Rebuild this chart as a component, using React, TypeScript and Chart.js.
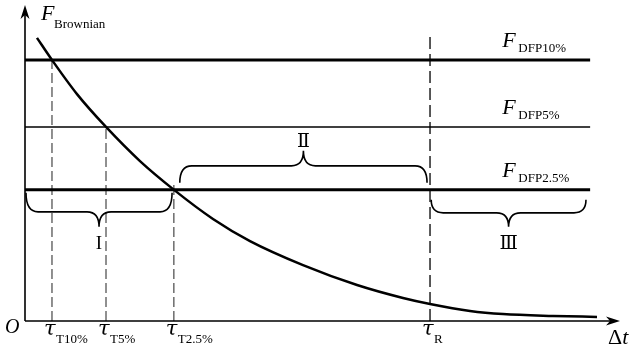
import React, { useEffect, useRef } from 'react';
import { Chart, registerables } from 'chart.js';

Chart.register(...registerables);

// Schematic data (arbitrary units: x 0..100 time, y 0..100 force)
const curveX = [2.02, 4.55, 8.77, 13.66, 19.39, 25.13, 31.7, 37.94, 46.88, 55.99, 63.74, 68.3, 75.04, 80.61, 89.04, 96.46];
const curveY = [89.6, 82.6, 71.8, 61.4, 50.6, 41.5, 32.3, 25.3, 17.7, 11.4, 7.3, 5.4, 3.2, 2.2, 1.6, 1.3];

const thresholdNames = ['DFP10%', 'DFP5%', 'DFP2.5%'];
const thresholdValues = [82.6, 61.4, 41.5];
const thresholdWidths = [3, 1.4, 3];
const thresholdEnd = 95.3;

const tickNames = ['T10%', 'T5%', 'T2.5%', 'R'];
const tickValues = [4.55, 13.66, 25.1, 68.3];
const tickTops = [82.6, 61.4, 43.5, 89.9];

const regionNames = ['I', 'Ⅱ', 'Ⅲ'];
const regionStarts = [0.17, 26.1, 68.5];
const regionEnds = [24.8, 67.8, 94.6];

const SERIF = "'Liberation Serif', 'DejaVu Serif', serif";

function drawBrace(ctx: CanvasRenderingContext2D, x1: number, x2: number, yEnd: number, yH: number, yTip: number) {
  const mid = (x1 + x2) / 2;
  const r = 12;
  ctx.beginPath();
  ctx.moveTo(x1, yEnd);
  ctx.quadraticCurveTo(x1, yH, x1 + r, yH);
  ctx.lineTo(mid - r, yH);
  ctx.quadraticCurveTo(mid, yH, mid, yTip);
  ctx.quadraticCurveTo(mid, yH, mid + r, yH);
  ctx.lineTo(x2 - r, yH);
  ctx.quadraticCurveTo(x2, yH, x2, yEnd);
  ctx.stroke();
}

const decorPlugin = {
  id: 'decor',
  afterDatasetsDraw(chart: any) {
    const ctx: CanvasRenderingContext2D = chart.ctx;
    const xs = chart.scales.x;
    const ys = chart.scales.y;
    const ca = chart.chartArea;
    const x0 = ca.left;
    const y0 = ca.bottom;
    ctx.save();
    ctx.strokeStyle = '#000';
    ctx.fillStyle = '#000';
    ctx.lineWidth = 1.6;
    // axes
    ctx.beginPath();
    ctx.moveTo(x0, y0);
    ctx.lineTo(x0, ca.top + 4);
    ctx.moveTo(x0, y0);
    ctx.lineTo(ca.right - 4, y0);
    ctx.stroke();
    // y arrow
    ctx.beginPath();
    ctx.moveTo(x0, ca.top);
    ctx.lineTo(x0 + 4.5, ca.top + 14);
    ctx.lineTo(x0, ca.top + 10);
    ctx.lineTo(x0 - 4.5, ca.top + 14);
    ctx.closePath();
    ctx.fill();
    // x arrow
    const xr = ca.right + 2;
    ctx.beginPath();
    ctx.moveTo(xr, y0);
    ctx.lineTo(xr - 14, y0 - 4.5);
    ctx.lineTo(xr - 10, y0);
    ctx.lineTo(xr - 14, y0 + 4.5);
    ctx.closePath();
    ctx.fill();

    ctx.textBaseline = 'alphabetic';
    ctx.textAlign = 'left';
    // F Brownian
    ctx.font = `italic 22px ${SERIF}`;
    ctx.fillText('F', x0 + 16, 20);
    ctx.font = `13px ${SERIF}`;
    ctx.fillText('Brownian', x0 + 29, 28);

    // threshold labels
    const lx = xs.getPixelForValue(80.5);
    thresholdNames.forEach((n, i) => {
      const py = ys.getPixelForValue(thresholdValues[i]);
      ctx.font = `italic 22px ${SERIF}`;
      ctx.fillText('F', lx, py - 13);
      ctx.font = `13px ${SERIF}`;
      ctx.fillText(n, lx + 16, py - 8);
    });

    // origin
    ctx.font = `italic 20px ${SERIF}`;
    ctx.fillText('O', 5, y0 + 12);

    // tick labels
    tickNames.forEach((n, i) => {
      const px = xs.getPixelForValue(tickValues[i]);
      ctx.font = `italic 21px 'DejaVu Serif', serif`;
      ctx.fillText('τ', px - 8, y0 + 14);
      ctx.font = `13px ${SERIF}`;
      ctx.fillText(n, px + 4, y0 + 22);
    });

    // Δt
    ctx.font = `22px ${SERIF}`;
    ctx.fillText('Δ', ca.right - 10, y0 + 23);
    const dw = ctx.measureText('Δ').width;
    ctx.font = `italic 22px ${SERIF}`;
    ctx.fillText('t', ca.right - 10 + dw, y0 + 23);

    // braces
    const base = ys.getPixelForValue(thresholdValues[2]);
    const braceY = [
      [3, 22, 37, 59],
      [-7, -24, -39, -43],
      [10, 23, 37, 59],
    ];
    ctx.lineWidth = 1.6;
    ctx.textAlign = 'center';
    ctx.font = `19px ${SERIF}`;
    regionNames.forEach((n, i) => {
      const a = xs.getPixelForValue(regionStarts[i]);
      const b = xs.getPixelForValue(regionEnds[i]);
      const [e, h, t, l] = braceY[i];
      drawBrace(ctx, a, b, base + e, base + h, base + t);
      ctx.fillText(n, (a + b) / 2, base + l);
    });
    ctx.restore();
  },
};

export default function App() {
  const ref = useRef<HTMLCanvasElement>(null);
  useEffect(() => {
    document.body.style.margin = '0';
    const datasets: any[] = [];
    datasets.push({
      data: curveX.map((x, i) => ({ x, y: curveY[i] })),
      borderColor: '#000',
      borderWidth: 2.5,
      pointRadius: 0,
      showLine: true,
      cubicInterpolationMode: 'monotone',
    });
    thresholdValues.forEach((v, i) => {
      datasets.push({
        data: [{ x: 0, y: v }, { x: thresholdEnd, y: v }],
        borderColor: '#000',
        borderWidth: thresholdWidths[i],
        pointRadius: 0,
        showLine: true,
      });
    });
    tickValues.forEach((v, i) => {
      const isR = i === tickValues.length - 1;
      datasets.push({
        data: [{ x: v, y: 0 }, { x: v, y: tickTops[i] }],
        borderColor: isR ? '#000' : '#555',
        borderWidth: 1.3,
        borderDash: isR ? [12, 5] : [10, 4],
        pointRadius: 0,
        showLine: true,
      });
    });
    const chart = new Chart(ref.current!, {
      type: 'scatter',
      data: { datasets },
      options: {
        animation: false,
        responsive: false,
        events: [],
        layout: { padding: { left: 25, right: 13, top: 5, bottom: 28 } },
        plugins: { legend: { display: false }, tooltip: { enabled: false } },
        scales: {
          x: { type: 'linear', min: 0, max: 100, display: false },
          y: { type: 'linear', min: 0, max: 100, display: false },
        },
      },
      plugins: [decorPlugin],
    });
    return () => chart.destroy();
  }, []);
  return (
    <div style={{ width: 631, height: 349, background: '#fff' }}>
      <canvas ref={ref} width={631} height={349} style={{ display: 'block' }} />
    </div>
  );
}
